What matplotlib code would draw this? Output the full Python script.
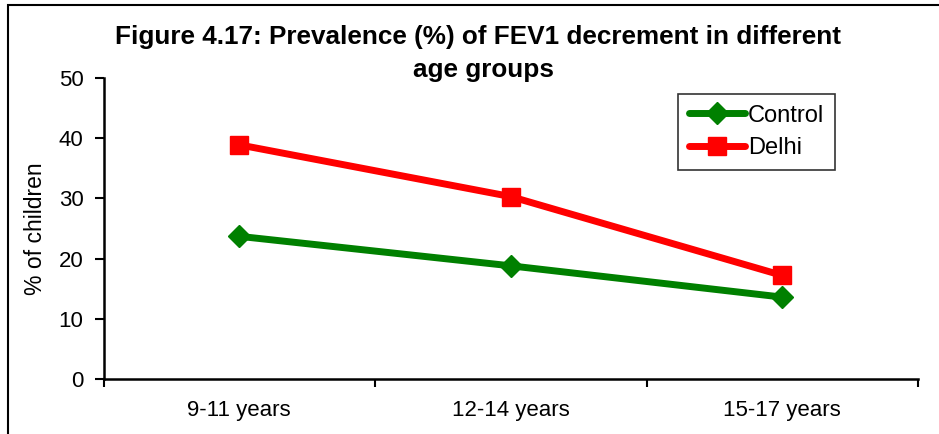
import matplotlib
matplotlib.use("Agg")
import matplotlib.pyplot as plt
from matplotlib.patches import Rectangle

categories = ["9-11 years", "12-14 years", "15-17 years"]
control = [23.7, 18.8, 13.6]
delhi = [38.9, 30.3, 17.2]
yticks = [0, 10, 20, 30, 40, 50]

plt.rcParams['font.family'] = ['Liberation Sans', 'DejaVu Sans']

W, H = 939, 434
fig = plt.figure(figsize=(W/100, H/100), dpi=100)

# outer frame (left and top visible)
fig.add_artist(Rectangle((8/W, -0.1), 1.2, 1 - 5/H + 0.1, transform=fig.transFigure,
                         fill=False, edgecolor='black', linewidth=1.5))

ax = fig.add_axes([103.5/W, 1 - 379/H, (918 - 103.5)/W, (379 - 78)/H])
x = list(range(len(categories)))
ax.plot(x, control, color='#008000', linewidth=5, marker='D', markersize=11.5,
        label='Control', solid_capstyle='round', clip_on=False)
ax.plot(x, delhi, color='#FF0000', linewidth=5, marker='s', markersize=12.5,
        label='Delhi', solid_capstyle='round', clip_on=False)

ax.set_xlim(-0.5, len(categories) - 0.5)
ax.set_ylim(0, 50)
ax.set_yticks(yticks)
ax.set_yticklabels([str(v) for v in yticks], fontsize=16)
ax.set_xticks([i - 0.5 for i in range(len(categories) + 1)])
ax.set_xticklabels([])
ax.set_xticks(x, minor=True)
ax.set_xticklabels(categories, minor=True, fontsize=16)
ax.tick_params(axis='x', which='minor', length=0, pad=15)
ax.tick_params(axis='x', which='major', length=5.5, width=1.5, direction='out')
ax.tick_params(axis='y', length=6.5, width=1.5, direction='out', pad=8)
for s in ['top', 'right']:
    ax.spines[s].set_visible(False)
for s in ['left', 'bottom']:
    ax.spines[s].set_linewidth(1.8)
ax.set_ylabel('% of children', fontsize=16.5)
ax.yaxis.set_label_coords((35 - 103.5)/(918 - 103.5), 0.5)
ax.yaxis.label.set_verticalalignment('center')

leg = ax.legend(loc='upper left', bbox_to_anchor=((678 - 103.5)/(918 - 103.5), (379 - 94)/(379 - 78)),
                fontsize=17, frameon=True, fancybox=False, edgecolor='black',
                handlelength=2.4, handletextpad=0.1, borderpad=0.45, labelspacing=0.45,
                borderaxespad=0)
leg.get_frame().set_linewidth(1.2)

fig.text(478/W, 1 - 37/H, 'Figure 4.17: Prevalence (%) of FEV1 decrement in different',
         ha='center', va='center', fontsize=18.8, fontweight='bold')
fig.text(484/W, 1 - 70/H, 'age groups', ha='center', va='center', fontsize=18.8, fontweight='bold')

fig.savefig('out.png', dpi=100)
